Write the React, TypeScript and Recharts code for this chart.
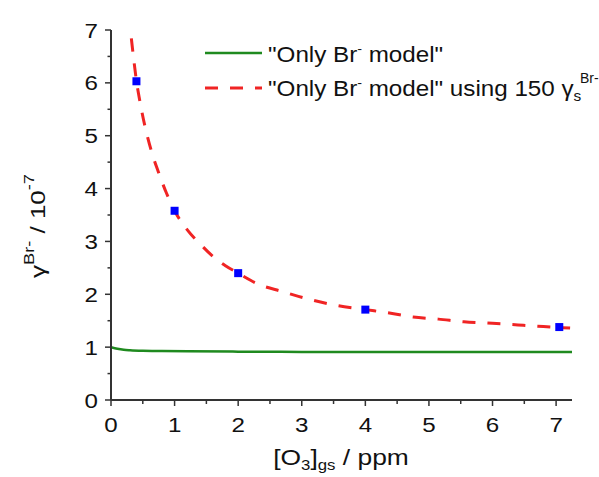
import React from 'react';
import { ComposedChart, Line, Scatter, XAxis, YAxis } from 'recharts';

// "Only Br- model" with 150 γs (red dashed)
const redX = [0.32, 0.36, 0.4, 0.45, 0.53, 0.64, 0.75, 0.87, 1.0, 1.2, 1.42, 1.61, 1.8, 2.0, 2.3, 2.7, 3.1, 3.5, 4.0, 4.35, 4.75, 5.15, 5.55, 6.0, 6.4, 6.8, 7.22];
const redY = [6.84, 6.42, 6.04, 5.68, 5.2, 4.69, 4.3, 3.92, 3.58, 3.22, 2.93, 2.71, 2.54, 2.4, 2.2, 2.05, 1.91, 1.8, 1.71, 1.65, 1.57, 1.53, 1.48, 1.45, 1.42, 1.39, 1.36];

// "Only Br- model" (green)
const greenX = [0, 0.1, 0.2, 0.3, 0.5, 0.8, 1.2, 2, 3, 4, 5, 6, 7.25];
const greenY = [1.0, 0.97, 0.95, 0.94, 0.93, 0.925, 0.92, 0.915, 0.91, 0.91, 0.91, 0.91, 0.91];

// measured points (blue squares)
const expX = [0.4, 1, 2, 4, 7.05];
const expY = [6.03, 3.58, 2.4, 1.71, 1.38];

const xTicks = [0, 0.5, 1, 1.5, 2, 2.5, 3, 3.5, 4, 4.5, 5, 5.5, 6, 6.5, 7];
const yTicks = [0, 0.5, 1, 1.5, 2, 2.5, 3, 3.5, 4, 4.5, 5, 5.5, 6, 6.5, 7];

const zip = (xs: number[], ys: number[]) => xs.map((x, i) => ({ x, y: ys[i] }));
const redData = zip(redX, redY);
const greenData = zip(greenX, greenY);
const expData = zip(expX, expY);

const FONT = '"Liberation Sans", Arial, sans-serif';
const AXIS = '#333';
const GREEN = '#1f8a1f';
const RED = '#f02424';
const BLUE = '#0000ff';

const XTick = (props: any) => {
  const { x, y, payload } = props;
  const major = Number.isInteger(payload.value);
  return (
    <g>
      <line x1={x} y1={y} x2={x} y2={y + (major ? 6 : 4)} stroke={AXIS} strokeWidth={1.5} />
      {major && (
        <g transform={`translate(${x},${y + 32}) scale(1.15,1)`}>
          <text x={0} y={0} textAnchor="middle" fontSize={21} fontFamily={FONT} fill="#111">
            {payload.value}
          </text>
        </g>
      )}
    </g>
  );
};

const YTick = (props: any) => {
  const { x, y, payload } = props;
  const major = Number.isInteger(payload.value);
  return (
    <g>
      <line x1={x - (major ? 6 : 3.5)} y1={y} x2={x} y2={y} stroke={AXIS} strokeWidth={1.5} />
      {major && (
        <g transform={`translate(${x - 13},${y + 7.5}) scale(1.15,1)`}>
          <text x={0} y={0} textAnchor="end" fontSize={21} fontFamily={FONT} fill="#111">
            {payload.value}
          </text>
        </g>
      )}
    </g>
  );
};

const Square = (props: any) => {
  const { cx, cy } = props;
  return <rect x={cx - 4} y={cy - 4} width={8} height={8} fill={BLUE} />;
};

const Overlay = () => (
  <svg width={599} height={477} style={{ position: 'absolute', left: 0, top: 0, pointerEvents: 'none' }}>
    <g fontFamily={FONT} fill="#111">
      {/* legend */}
      <line x1={205} y1={53} x2={262} y2={53} stroke={GREEN} strokeWidth={2.5} />
      <g transform="translate(268,62) scale(1.1,1)">
        <text x={0} y={0} fontSize={22}>
          "Only Br<tspan fontSize={13} dy={-9}>-</tspan>
          <tspan dy={9}> model"</tspan>
        </text>
      </g>
      <line x1={205} y1={88} x2={262} y2={88} stroke={RED} strokeWidth={3} strokeDasharray="13 12" />
      <g transform="translate(268,96) scale(1.1,1)">
        <text x={0} y={0} fontSize={22}>
          "Only Br<tspan fontSize={13} dy={-9}>-</tspan>
          <tspan dy={9}> model" using 150 γ</tspan>
          <tspan fontSize={14} dy={5}>s</tspan>
        </text>
      </g>
      <text x={580} y={83} fontSize={14}>Br-</text>

      {/* x axis title */}
      <g transform="translate(341,465) scale(1.2,1)">
        <text x={0} y={0} fontSize={22} textAnchor="middle">
          [O<tspan fontSize={14} dy={5}>3</tspan>
          <tspan dy={-5}>]</tspan>
          <tspan fontSize={14} dy={5}>gs</tspan>
          <tspan dy={-5}> / ppm</tspan>
        </text>
      </g>

      {/* y axis title */}
      <g transform="translate(45,226) rotate(-90) scale(1.3,1)">
        <text x={0} y={0} fontSize={20} textAnchor="middle">
          γ<tspan fontSize={14} dy={-11}>Br-</tspan>
          <tspan dy={11}> / 10</tspan>
          <tspan fontSize={14} dy={-11}>-7</tspan>
        </text>
      </g>
    </g>
  </svg>
);

export default function App() {
  return (
    <div style={{ position: 'absolute', left: 0, top: 0, width: 599, height: 477, background: '#fff' }}>
      <ComposedChart width={599} height={477} margin={{ top: 30, right: 27, bottom: 0, left: 0 }}>
        <XAxis
          dataKey="x"
          type="number"
          domain={[0, 7.25]}
          ticks={xTicks}
          interval={0}
          allowDataOverflow
          height={77}
          tickSize={0}
          tickMargin={0}
          tickLine={false}
          axisLine={{ stroke: AXIS, strokeWidth: 2 }}
          tick={<XTick />}
        />
        <YAxis
          dataKey="y"
          type="number"
          domain={[0, 7]}
          ticks={yTicks}
          interval={0}
          allowDataOverflow
          width={111}
          tickSize={0}
          tickMargin={0}
          tickLine={false}
          axisLine={{ stroke: AXIS, strokeWidth: 2 }}
          tick={<YTick />}
        />
        <Line
          data={greenData}
          dataKey="y"
          type="monotone"
          stroke={GREEN}
          strokeWidth={2.5}
          dot={false}
          isAnimationActive={false}
        />
        <Line
          data={redData}
          dataKey="y"
          type="monotone"
          stroke={RED}
          strokeWidth={3}
          strokeDasharray="13 12"
          dot={false}
          isAnimationActive={false}
        />
        <Scatter data={expData} dataKey="y" fill={BLUE} shape={<Square />} isAnimationActive={false} />
      </ComposedChart>
      <Overlay />
    </div>
  );
}
